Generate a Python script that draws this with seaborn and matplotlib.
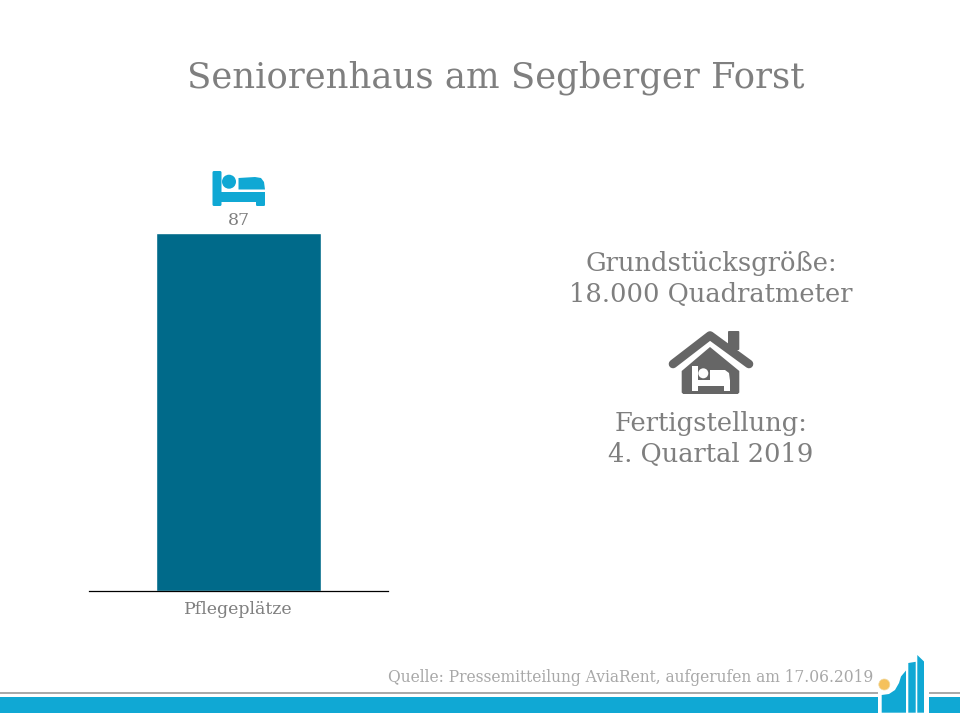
import matplotlib
matplotlib.use("Agg")
import matplotlib.pyplot as plt
import pandas as pd
import seaborn as sns
from matplotlib.patches import Circle, FancyBboxPatch, Polygon, Rectangle

categories = ["Pflegeplätze"]
values = [87]
title_text = "Seniorenhaus am Segberger Forst"
info_top = "Grundstücksgröße:\n18.000 Quadratmeter"
info_bottom = "Fertigstellung:\n4. Quartal 2019"
source_text = "Quelle: Pressemitteilung AviaRent, aufgerufen am 17.06.2019"

BAR = "#006a8a"
TEXT = "#7f7f7f"
BLUE = "#10a8d4"
ICON = "#666666"

sns.set_theme(style="white")
plt.rcParams["font.family"] = ["DejaVu Serif"]

W, H = 960, 720
fig = plt.figure(figsize=(W / 100, H / 100), dpi=100, facecolor="white")

# bar chart, axes box placed so the bar top lands on the max value
ax = fig.add_axes([89 / W, (H - 591) / H, 299 / W, 358 / H])
df = pd.DataFrame({"category": categories, "value": values})
sns.barplot(data=df, x="category", y="value", color=BAR, saturation=1, width=0.555, ax=ax)
ax.set_xlim(-0.5, 0.5)
ax.set_ylim(0, max(values))
ax.set_xlabel("")
ax.set_ylabel("")
ax.set_yticks([])
ax.tick_params(axis="x", length=0, pad=7, labelsize=12.5, labelcolor=TEXT)
sns.despine(ax=ax, left=True)
ax.spines["bottom"].set_color("black")
ax.spines["bottom"].set_linewidth(0.9)
for bar_group in ax.containers:
    ax.bar_label(bar_group, padding=3, fontsize=12.5, color=TEXT)

# overlay in pixel coordinates for text, icons and footer
ov = fig.add_axes([0, 0, 1, 1], zorder=5)
ov.set_xlim(0, W)
ov.set_ylim(H, 0)
ov.axis("off")

ov.text(496, 78, title_text, ha="center", va="center", fontsize=25.5, color=TEXT)
ov.text(711, 279, info_top, ha="center", va="center", fontsize=18.5, color=TEXT, linespacing=1.25)
ov.text(711, 439, info_bottom, ha="center", va="center", fontsize=18.5, color=TEXT, linespacing=1.25)
ov.text(873, 677, source_text, ha="right", va="center", fontsize=11.2, color="#a8a8a8")


def rect(x0, y0, x1, y1, color):
    ov.add_patch(Rectangle((x0, y0), x1 - x0, y1 - y0, fc=color, ec="none"))


def rounded(x0, y0, x1, y1, r, color):
    ov.add_patch(FancyBboxPatch((x0 + r, y0 + r), x1 - x0 - 2 * r, y1 - y0 - 2 * r,
                                boxstyle=f"round,pad={r},rounding_size={r}", fc=color, ec="none"))


# bed icon above the bar
rounded(212.5, 171, 221.5, 206, 1.5, BLUE)
rect(220, 192, 265, 201.5, BLUE)
rounded(256, 195, 265, 206, 1.2, BLUE)
ov.add_patch(Circle((229, 181.7), 7, fc=BLUE, ec="none"))
ov.add_patch(Polygon([(238.5, 178), (255, 177), (261, 178), (264, 182), (265, 189.5), (238.5, 189.5)],
                     fc=BLUE, ec="none"))

# house icon
ov.plot([673, 710, 749], [364, 335.5, 364], color=ICON, lw=6.2, solid_capstyle="round", solid_joinstyle="round")
rounded(728, 331, 739.3, 350, 1, ICON)
ov.add_patch(Polygon([(710, 347), (739.3, 371), (739.3, 392.5), (737.8, 394), (683.2, 394), (681.7, 392.5), (681.7, 371)],
                     fc=ICON, ec="none"))
rect(691.7, 366, 697.7, 390.7, "white")
rect(697, 380, 730, 386, "white")
rect(724, 384, 730, 390.7, "white")
ov.add_patch(Circle((703.3, 373.3), 5, fc="white", ec="none"))
ov.add_patch(Polygon([(710, 370), (725, 370), (729, 373), (730, 380.5), (710, 380.5)], fc="white", ec="none"))

# footer lines and logo
rect(0, 692, 877.5, 694, "#aaaaaa")
rect(928.5, 692, W, 694, "#aaaaaa")
rect(0, 697, 877.5, 712.7, BLUE)
rect(928.5, 697, W, 712.7, BLUE)
ov.add_patch(Polygon([(881.7, 712.7), (881.7, 695), (889, 694), (895, 690), (899, 683), (901, 676.5), (906, 670.5), (906, 712.7)],
                     fc=BLUE, ec="none"))
ov.add_patch(Polygon([(908.3, 712.7), (908.3, 663), (915.7, 661.8), (915.7, 712.7)], fc=BLUE, ec="none"))
ov.add_patch(Polygon([(917.3, 712.7), (917.3, 655), (924, 661.5), (924, 712.7)], fc=BLUE, ec="none"))
ov.add_patch(Circle((884.3, 684.5), 5.5, fc="#f5c15c", ec="#f0d9a0", lw=0.5))

fig.savefig("out.png", dpi=100)
